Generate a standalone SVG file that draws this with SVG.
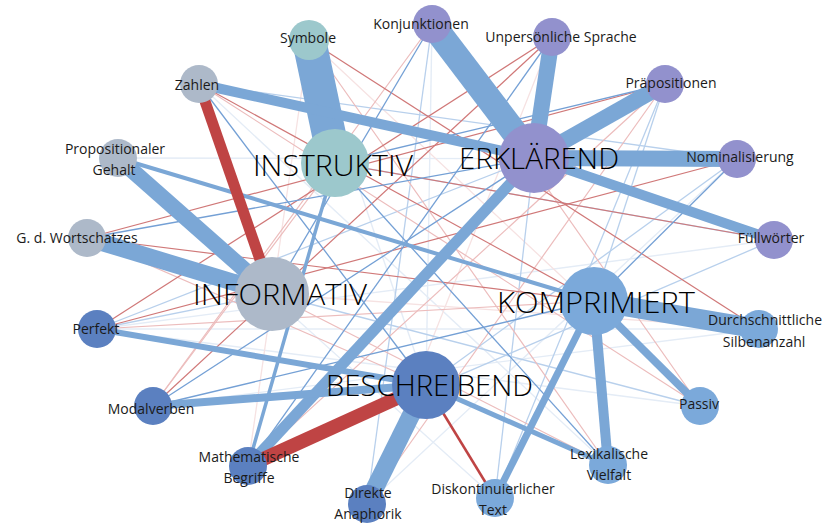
<svg xmlns="http://www.w3.org/2000/svg" width="832" height="524" viewBox="0 0 832 524">
<style>
text{font-family:"Open Sans","Noto Sans","Liberation Sans",sans-serif;fill:#1a1a1a}
.s{font-size:14px;font-weight:400;text-anchor:middle}
.h{font-size:30px;font-weight:300;fill:#000}
.e{fill:none;stroke-linecap:butt}
.B{stroke:#7ba7d6}
.R{stroke:#bf4444}
.b1{stroke:#74a0d5;stroke-width:1.3;fill:none}
.b2{stroke:#b8d0ec;stroke-width:1.3;fill:none}
.b3{stroke:#e4ecf6;stroke-width:1.4;fill:none}
.r1{stroke:#d07878;stroke-width:1.2;fill:none}
.r2{stroke:#ecbcbc;stroke-width:1.2;fill:none}
.r3{stroke:#f6e2e2;stroke-width:1.3;fill:none}
.teal{fill:#9cc8cc}
.pur{fill:#9291cd}
.gry{fill:#adb9c9}
.dbl{fill:#5b80c0}
.lbl{fill:#7ba9da}
</style>
<rect width="832" height="524" fill="#fff"/>
<g id="connectors">
<line class="b3" x1="118" y1="158" x2="737" y2="159"/>
<line class="b3" x1="97" y1="329" x2="759" y2="329"/>
<line class="b3" x1="432" y1="24" x2="426" y2="385"/>
<line class="b3" x1="700" y1="406" x2="97" y2="329"/>
<line class="b3" x1="774" y1="240" x2="97" y2="329"/>
<line class="b3" x1="367" y1="504" x2="737" y2="159"/>
<line class="b3" x1="309" y1="40" x2="426" y2="385"/>
<line class="b3" x1="759" y1="329" x2="153" y2="406"/>
<line class="b3" x1="87" y1="238" x2="272" y2="294"/>
<line class="b3" x1="118" y1="158" x2="495" y2="498"/>
<line class="b3" x1="199" y1="84" x2="608" y2="465"/>
<line class="r3" x1="309" y1="40" x2="700" y2="406"/>
<line class="r3" x1="552" y1="37" x2="367" y2="504"/>
<line class="r3" x1="272" y1="294" x2="759" y2="329"/>
<line class="r3" x1="248" y1="466" x2="309" y2="40"/>
<line class="b2" x1="495" y1="498" x2="534" y2="158"/>
<line class="b2" x1="665" y1="84" x2="594" y2="301"/>
<line class="b2" x1="97" y1="329" x2="534" y2="158"/>
<line class="b2" x1="97" y1="329" x2="272" y2="294"/>
<line class="b2" x1="774" y1="240" x2="248" y2="466"/>
<line class="b2" x1="432" y1="24" x2="367" y2="504"/>
<line class="b2" x1="665" y1="84" x2="495" y2="498"/>
<line class="b2" x1="737" y1="159" x2="426" y2="385"/>
<line class="b2" x1="774" y1="240" x2="335" y2="163"/>
<line class="b2" x1="700" y1="406" x2="272" y2="294"/>
<line class="b2" x1="199" y1="84" x2="737" y2="159"/>
<line class="r2" x1="309" y1="40" x2="608" y2="465"/>
<line class="r2" x1="153" y1="406" x2="432" y2="24"/>
<line class="r2" x1="97" y1="329" x2="594" y2="301"/>
<line class="r2" x1="367" y1="504" x2="665" y2="84"/>
<line class="r2" x1="199" y1="84" x2="700" y2="406"/>
<line class="r2" x1="248" y1="466" x2="665" y2="84"/>
<line class="r2" x1="87" y1="238" x2="426" y2="385"/>
<line class="r2" x1="272" y1="294" x2="608" y2="465"/>
<line class="r2" x1="153" y1="406" x2="335" y2="163"/>
<line class="r2" x1="432" y1="24" x2="700" y2="406"/>
<line class="r1" x1="199" y1="84" x2="594" y2="301"/>
<line class="r1" x1="309" y1="40" x2="759" y2="329"/>
<line class="r1" x1="552" y1="37" x2="97" y2="329"/>
<line class="r1" x1="87" y1="238" x2="665" y2="84"/>
<line class="r1" x1="737" y1="159" x2="97" y2="329"/>
<line class="r1" x1="153" y1="406" x2="552" y2="37"/>
<line class="r1" x1="335" y1="163" x2="774" y2="240"/>
<line class="r1" x1="87" y1="238" x2="594" y2="301"/>
<line class="b1" x1="199" y1="84" x2="426" y2="385"/>
<line class="b1" x1="87" y1="238" x2="534" y2="158"/>
<line class="b1" x1="432" y1="24" x2="272" y2="294"/>
<line class="b1" x1="737" y1="159" x2="594" y2="301"/>
<line class="b1" x1="608" y1="465" x2="335" y2="163"/>
<line class="b1" x1="153" y1="406" x2="594" y2="301"/>
<line class="b1" x1="665" y1="84" x2="335" y2="163"/>
<line class="b1" x1="248" y1="466" x2="552" y2="37"/>
<line class="b1" x1="153" y1="406" x2="534" y2="158"/>
<line class="e B" x1="118" y1="158" x2="594" y2="301" stroke-width="4"/>
<line class="e B" x1="335" y1="163" x2="248" y2="466" stroke-width="3.5"/>
<line class="e R" x1="426" y1="385" x2="495" y2="498" stroke-width="2.5"/>
<line class="e B" x1="309" y1="40" x2="335" y2="163" stroke-width="34"/>
<line class="e B" x1="199" y1="84" x2="534" y2="158" stroke-width="10"/>
<line class="e R" x1="199" y1="84" x2="272" y2="294" stroke-width="11"/>
<line class="e B" x1="432" y1="24" x2="534" y2="158" stroke-width="26"/>
<line class="e B" x1="552" y1="37" x2="534" y2="158" stroke-width="16"/>
<line class="e B" x1="665" y1="84" x2="534" y2="158" stroke-width="16"/>
<line class="e B" x1="737" y1="159" x2="534" y2="158" stroke-width="16"/>
<line class="e B" x1="774" y1="240" x2="534" y2="158" stroke-width="10"/>
<line class="e B" x1="118" y1="158" x2="272" y2="294" stroke-width="16"/>
<line class="e B" x1="87" y1="238" x2="272" y2="294" stroke-width="17"/>
<line class="e B" x1="534" y1="158" x2="248" y2="466" stroke-width="11"/>
<line class="e R" x1="248" y1="466" x2="426" y2="385" stroke-width="14"/>
<line class="e B" x1="367" y1="504" x2="426" y2="385" stroke-width="18"/>
<line class="e B" x1="97" y1="329" x2="426" y2="385" stroke-width="6"/>
<line class="e B" x1="153" y1="406" x2="426" y2="385" stroke-width="8"/>
<line class="e B" x1="426" y1="385" x2="608" y2="465" stroke-width="5"/>
<line class="e B" x1="594" y1="301" x2="495" y2="498" stroke-width="7"/>
<line class="e B" x1="594" y1="301" x2="608" y2="465" stroke-width="10"/>
<line class="e B" x1="594" y1="301" x2="700" y2="406" stroke-width="8"/>
<line class="e B" x1="594" y1="301" x2="759" y2="329" stroke-width="20"/>
</g>
<g id="n-symbole"><circle class="teal" cx="309" cy="40" r="20"/><text class="s" x="308" y="43">Symbole</text></g>
<g id="n-konjunktionen"><circle class="pur" cx="432" cy="24" r="19"/><text class="s" x="421" y="29">Konjunktionen</text></g>
<g id="n-unpersoenliche"><circle class="pur" cx="552" cy="37" r="19"/><text class="s" x="561" y="42">Unpersönliche Sprache</text></g>
<g id="n-praepositionen"><circle class="pur" cx="665" cy="84" r="19"/><text class="s" x="671" y="88">Präpositionen</text></g>
<g id="n-nominalisierung"><circle class="pur" cx="737" cy="159" r="19"/><text class="s" x="740" y="162">Nominalisierung</text></g>
<g id="n-fuellwoerter"><circle class="pur" cx="774" cy="240" r="19"/><text class="s" x="771" y="243">Füllwörter</text></g>
<g id="n-zahlen"><circle class="gry" cx="199" cy="84" r="19"/><text class="s" x="197" y="90">Zahlen</text></g>
<g id="n-propgehalt"><circle class="gry" cx="118" cy="158" r="19"/><text class="s" x="115" y="154">Propositionaler</text><text class="s" x="114" y="175">Gehalt</text></g>
<g id="n-wortschatz"><circle class="gry" cx="87" cy="238" r="19"/><text class="s" x="77" y="243">G. d. Wortschatzes</text></g>
<g id="n-perfekt"><circle class="dbl" cx="97" cy="329" r="19"/><text class="s" x="96" y="334">Perfekt</text></g>
<g id="n-modalverben"><circle class="dbl" cx="153" cy="406" r="19"/><text class="s" x="151" y="414">Modalverben</text></g>
<g id="n-mathe"><circle class="dbl" cx="248" cy="466" r="19"/><text class="s" x="249" y="462">Mathematische</text><text class="s" x="249" y="483">Begriffe</text></g>
<g id="n-anaphorik"><circle class="dbl" cx="367" cy="504" r="19"/><text class="s" x="368" y="498">Direkte</text><text class="s" x="368" y="519">Anaphorik</text></g>
<g id="n-diskont"><circle class="lbl" cx="495" cy="498" r="19"/><text class="s" x="493" y="494">Diskontinuierlicher</text><text class="s" x="493" y="515">Text</text></g>
<g id="n-lexikalisch"><circle class="lbl" cx="608" cy="465" r="19"/><text class="s" x="609" y="459">Lexikalische</text><text class="s" x="609" y="480">Vielfalt</text></g>
<g id="n-passiv"><circle class="lbl" cx="700" cy="406" r="19"/><text class="s" x="699" y="409">Passiv</text></g>
<g id="n-silben"><circle class="lbl" cx="759" cy="329" r="19"/><text class="s" x="765" y="325">Durchschnittliche</text><text class="s" x="764" y="347">Silbenanzahl</text></g>
<g id="n-instruktiv"><circle class="teal" cx="335" cy="163" r="34"/><text class="h" x="253" y="176" textLength="160" lengthAdjust="spacingAndGlyphs">INSTRUKTIV</text></g>
<g id="n-erklaerend"><circle class="pur" cx="534" cy="158" r="35"/><text class="h" x="459" y="169" textLength="160" lengthAdjust="spacingAndGlyphs">ERKLÄREND</text></g>
<g id="n-informativ"><circle class="gry" cx="272" cy="294" r="37"/><text class="h" x="193" y="305" textLength="174" lengthAdjust="spacingAndGlyphs">INFORMATIV</text></g>
<g id="n-komprimiert"><circle class="lbl" cx="594" cy="301" r="34"/><text class="h" x="497" y="313" textLength="198" lengthAdjust="spacingAndGlyphs">KOMPRIMIERT</text></g>
<g id="n-beschreibend"><circle class="dbl" cx="426" cy="385" r="34"/><text class="h" x="326" y="396" textLength="207" lengthAdjust="spacingAndGlyphs">BESCHREIBEND</text></g>
</svg>
